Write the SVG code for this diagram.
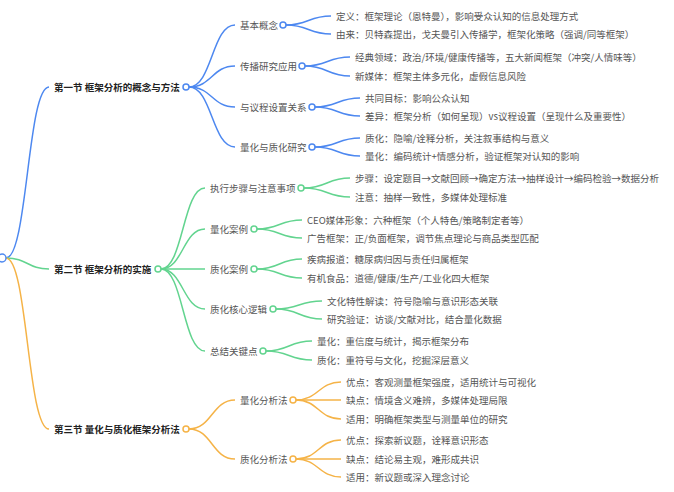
<svg xmlns="http://www.w3.org/2000/svg" width="674" height="492" viewBox="0 0 674 492">
<style>
text{font-family:"Noto Sans CJK SC","Noto Sans",sans-serif;font-size:9.5px;fill:#555}
.sec{font-weight:bold;fill:#222}
.l{fill:none;stroke-width:1.5}
.b{stroke:#4d88f0}.g{stroke:#62d48f}.o{stroke:#f5b347}
.c{fill:#fff;stroke-width:1.5}
</style>
<rect width="674" height="492" fill="#fff"/>
<g id="connectors">
<path class="l b" stroke-width="1.8" d="M6 258 C27.5 258 27.5 87 49 87"/>
<path class="l g" stroke-width="1.8" d="M6 258 C27.5 258 27.5 269 49 269"/>
<path class="l o" stroke-width="1.8" d="M6 258 C27.5 258 27.5 429 49 429"/>
<path class="l b" d="M189 87 C212 87 212 25 235 25"/>
<path class="l b" d="M189 87 C212 87 212 66 235 66"/>
<path class="l b" d="M189 87 C212 87 212 107 235 107"/>
<path class="l b" d="M189 87 C212 87 212 147 235 147"/>
<path class="l b" d="M286 25 C308.5 25 308.5 16 331 16"/>
<path class="l b" d="M286 25 C308.5 25 308.5 34 331 34"/>
<path class="l b" d="M305 66 C327.5 66 327.5 57 350 57"/>
<path class="l b" d="M305 66 C327.5 66 327.5 76 350 76"/>
<path class="l b" d="M315 107 C337.5 107 337.5 98 360 98"/>
<path class="l b" d="M315 107 C337.5 107 337.5 116 360 116"/>
<path class="l b" d="M315 147 C337.5 147 337.5 138 360 138"/>
<path class="l b" d="M315 147 C337.5 147 337.5 156 360 156"/>
<path class="l g" d="M161 269 C183 269 183 188 205 188"/>
<path class="l g" d="M161 269 C183 269 183 229 205 229"/>
<path class="l g" d="M161 269 C183 269 183 269 205 269"/>
<path class="l g" d="M161 269 C183 269 183 309 205 309"/>
<path class="l g" d="M161 269 C183 269 183 351 205 351"/>
<path class="l g" d="M304 188 C327 188 327 178 350 178"/>
<path class="l g" d="M304 188 C327 188 327 197 350 197"/>
<path class="l g" d="M257 229 C279.5 229 279.5 220 302 220"/>
<path class="l g" d="M257 229 C279.5 229 279.5 238 302 238"/>
<path class="l g" d="M257 269 C279.5 269 279.5 259 302 259"/>
<path class="l g" d="M257 269 C279.5 269 279.5 278 302 278"/>
<path class="l g" d="M276 309 C299 309 299 301 322 301"/>
<path class="l g" d="M276 309 C299 309 299 319 322 319"/>
<path class="l g" d="M266 351 C289 351 289 341 312 341"/>
<path class="l g" d="M266 351 C289 351 289 360 312 360"/>
<path class="l o" d="M189 429 C212 429 212 400 235 400"/>
<path class="l o" d="M189 429 C212 429 212 459 235 459"/>
<path class="l o" d="M296 400 C318.5 400 318.5 382 341 382"/>
<path class="l o" d="M296 400 C318.5 400 318.5 400 341 400"/>
<path class="l o" d="M296 400 C318.5 400 318.5 419 341 419"/>
<path class="l o" d="M296 459 C318.5 459 318.5 440 341 440"/>
<path class="l o" d="M296 459 C318.5 459 318.5 459 341 459"/>
<path class="l o" d="M296 459 C318.5 459 318.5 477 341 477"/>
</g>
<g id="root"><circle class="c b" cx="2" cy="258" r="4"/></g>
<g id="s1"><text class="sec" x="54" y="90.5">第一节 框架分析的概念与方法</text><circle class="c b" cx="186" cy="87" r="3"/></g>
<g id="s1-1"><text x="240" y="28.5">基本概念</text><circle class="c b" cx="283" cy="25" r="3"/></g>
<g id="s1-1-1"><text x="336" y="19.5">定义：框架理论（恩特曼），影响受众认知的信息处理方式</text></g>
<g id="s1-1-2"><text x="336" y="37.5">由来：贝特森提出，戈夫曼引入传播学，框架化策略（强调/同等框架）</text></g>
<g id="s1-2"><text x="240" y="69.5">传播研究应用</text><circle class="c b" cx="302" cy="66" r="3"/></g>
<g id="s1-2-1"><text x="355" y="60.5">经典领域：政治/环境/健康传播等，五大新闻框架（冲突/人情味等）</text></g>
<g id="s1-2-2"><text x="355" y="79.5">新媒体：框架主体多元化，虚假信息风险</text></g>
<g id="s1-3"><text x="240" y="110.5">与议程设置关系</text><circle class="c b" cx="312" cy="107" r="3"/></g>
<g id="s1-3-1"><text x="365" y="101.5">共同目标：影响公众认知</text></g>
<g id="s1-3-2"><text x="365" y="119.5">差异：框架分析（如何呈现）vs议程设置（呈现什么及重要性）</text></g>
<g id="s1-4"><text x="240" y="150.5">量化与质化研究</text><circle class="c b" cx="312" cy="147" r="3"/></g>
<g id="s1-4-1"><text x="365" y="141.5">质化：隐喻/诠释分析，关注叙事结构与意义</text></g>
<g id="s1-4-2"><text x="365" y="159.5">量化：编码统计+情感分析，验证框架对认知的影响</text></g>
<g id="s2"><text class="sec" x="54" y="272.5">第二节 框架分析的实施</text><circle class="c g" cx="158" cy="269" r="3"/></g>
<g id="s2-1"><text x="210" y="191.5">执行步骤与注意事项</text><circle class="c g" cx="301" cy="188" r="3"/></g>
<g id="s2-1-1"><text x="355" y="181.5">步骤：设定题目→文献回顾→确定方法→抽样设计→编码检验→数据分析</text></g>
<g id="s2-1-2"><text x="355" y="200.5">注意：抽样一致性，多媒体处理标准</text></g>
<g id="s2-2"><text x="210" y="232.5">量化案例</text><circle class="c g" cx="254" cy="229" r="3"/></g>
<g id="s2-2-1"><text x="307" y="223.5">CEO媒体形象：六种框架（个人特色/策略制定者等）</text></g>
<g id="s2-2-2"><text x="307" y="241.5">广告框架：正/负面框架，调节焦点理论与商品类型匹配</text></g>
<g id="s2-3"><text x="210" y="272.5">质化案例</text><circle class="c g" cx="254" cy="269" r="3"/></g>
<g id="s2-3-1"><text x="307" y="262.5">疾病报道：糖尿病归因与责任归属框架</text></g>
<g id="s2-3-2"><text x="307" y="281.5">有机食品：道德/健康/生产/工业化四大框架</text></g>
<g id="s2-4"><text x="210" y="312.5">质化核心逻辑</text><circle class="c g" cx="273" cy="309" r="3"/></g>
<g id="s2-4-1"><text x="327" y="304.5">文化特性解读：符号隐喻与意识形态关联</text></g>
<g id="s2-4-2"><text x="327" y="322.5">研究验证：访谈/文献对比，结合量化数据</text></g>
<g id="s2-5"><text x="210" y="354.5">总结关键点</text><circle class="c g" cx="263" cy="351" r="3"/></g>
<g id="s2-5-1"><text x="317" y="344.5">量化：重信度与统计，揭示框架分布</text></g>
<g id="s2-5-2"><text x="317" y="363.5">质化：重符号与文化，挖掘深层意义</text></g>
<g id="s3"><text class="sec" x="54" y="432.5">第三节 量化与质化框架分析法</text><circle class="c o" cx="186" cy="429" r="3"/></g>
<g id="s3-1"><text x="240" y="403.5">量化分析法</text><circle class="c o" cx="293" cy="400" r="3"/></g>
<g id="s3-1-1"><text x="346" y="385.5">优点：客观测量框架强度，适用统计与可视化</text></g>
<g id="s3-1-2"><text x="346" y="403.5">缺点：情境含义难辨，多媒体处理局限</text></g>
<g id="s3-1-3"><text x="346" y="422.5">适用：明确框架类型与测量单位的研究</text></g>
<g id="s3-2"><text x="240" y="462.5">质化分析法</text><circle class="c o" cx="293" cy="459" r="3"/></g>
<g id="s3-2-1"><text x="346" y="443.5">优点：探索新议题，诠释意识形态</text></g>
<g id="s3-2-2"><text x="346" y="462.5">缺点：结论易主观，难形成共识</text></g>
<g id="s3-2-3"><text x="346" y="480.5">适用：新议题或深入理念讨论</text></g>
</svg>
